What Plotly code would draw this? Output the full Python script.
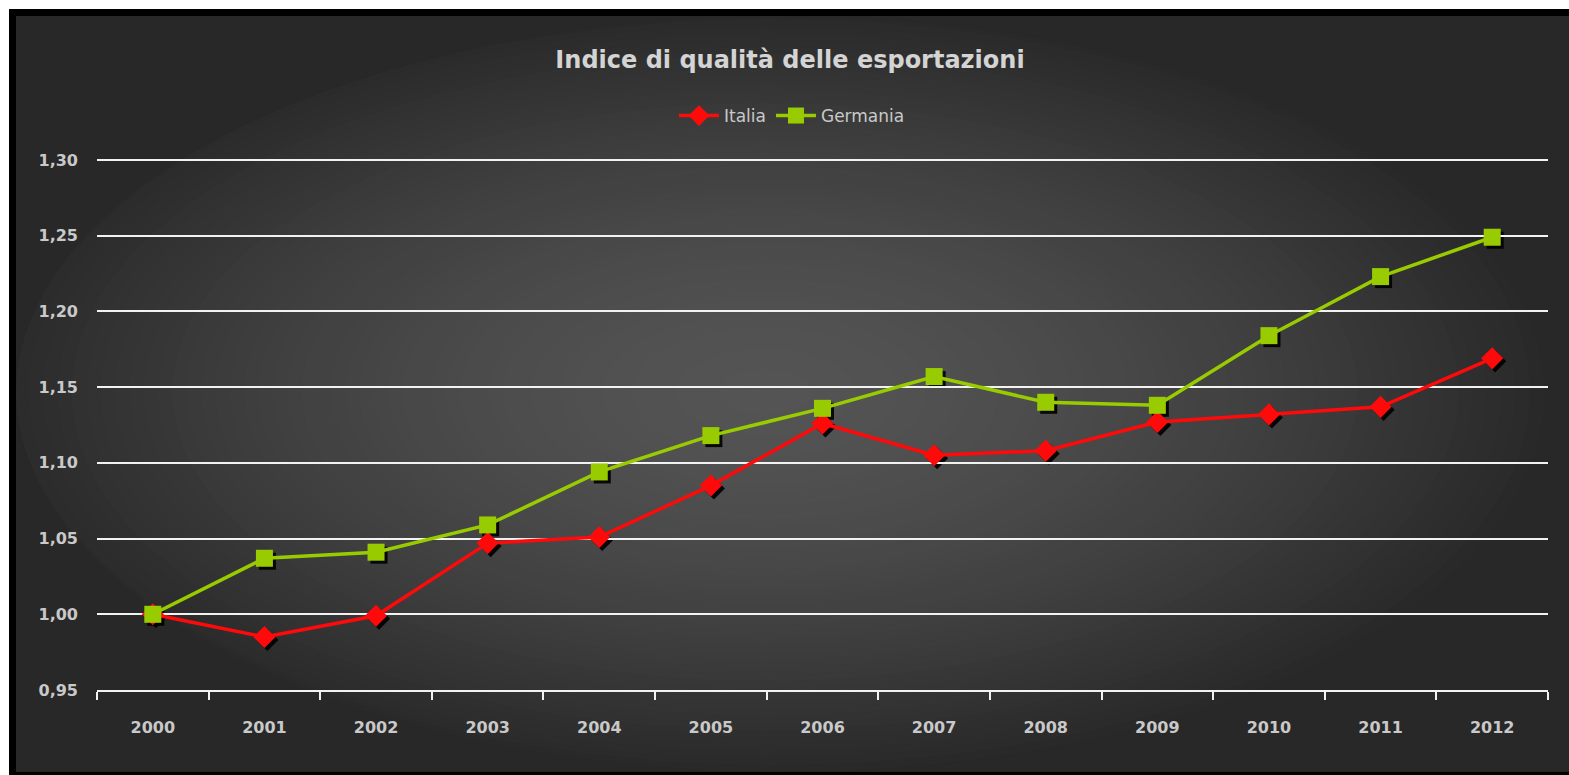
import plotly.graph_objects as go

# Anni e indici (2000 = 1,00)
anni = ["2000", "2001", "2002", "2003", "2004", "2005", "2006",
        "2007", "2008", "2009", "2010", "2011", "2012"]
italia = [1.000, 0.985, 0.999, 1.047, 1.051, 1.085, 1.126,
          1.105, 1.108, 1.127, 1.132, 1.137, 1.169]
germania = [1.000, 1.037, 1.041, 1.059, 1.094, 1.118, 1.136,
            1.157, 1.140, 1.138, 1.184, 1.223, 1.249]
y_ticks = [0.95, 1.00, 1.05, 1.10, 1.15, 1.20, 1.25, 1.30]

TITOLO = "Indice di qualità delle esportazioni"
ROSSO = "#ff0a0a"
VERDE = "#99cc00"
TESTO = "#c9c9c9"
FONT = "DejaVu Sans"

W, H = 1569, 775
ML, MR, MT, MB = 97, 18, 152, 82
PW, PH = W - ML - MR, H - MT - MB
SH = 3  # spostamento ombra in pixel
Y0_PX, Y1_PX = 690, 160  # posizione verticale di 0,95 e 1,30
Y_RANGE = [0.95, 0.95 + 0.35 * (Y0_PX - MT) / (Y0_PX - Y1_PX)]


def px(x):
    return (x - ML) / PW


def py(y):
    return (H - MB - y) / PH


fig = go.Figure()

# ombre dei marcatori: sottografico invisibile spostato di qualche pixel
fig.add_trace(go.Scatter(x=anni, y=italia, mode="markers", xaxis="x", yaxis="y",
                         marker=dict(symbol="diamond", size=17, color="rgba(0,0,0,0.9)"),
                         showlegend=False, hoverinfo="skip"))
fig.add_trace(go.Scatter(x=anni, y=germania, mode="markers", xaxis="x", yaxis="y",
                         marker=dict(symbol="square", size=17, color="rgba(0,0,0,0.9)"),
                         showlegend=False, hoverinfo="skip"))

# serie principali sugli assi visibili
fig.add_trace(go.Scatter(x=anni, y=italia, name="Italia", mode="lines+markers",
                         xaxis="x2", yaxis="y2",
                         line=dict(color=ROSSO, width=3.5),
                         marker=dict(symbol="diamond", size=17, color=ROSSO)))
fig.add_trace(go.Scatter(x=anni, y=germania, name="Germania", mode="lines+markers",
                         xaxis="x2", yaxis="y2",
                         line=dict(color=VERDE, width=3.5),
                         marker=dict(symbol="square", size=17, color=VERDE)))

# sfondo: cornice nera e gradiente radiale scuro
shapes = [
    dict(type="rect", xref="paper", yref="paper", layer="below",
         x0=px(9), x1=px(W), y0=py(9), y1=py(H), fillcolor="#000000", line_width=0),
    dict(type="rect", xref="paper", yref="paper", layer="below",
         x0=px(16), x1=px(W), y0=py(16), y1=py(772), fillcolor="#282828", line_width=0),
]
cx, cy = 765, 392
rx_max, ry_max = 790, 385
n = 56
c_out, c_in = 40, 84
for i in range(n):
    t = i / (n - 1)
    s = 1 - t
    rx, ry = rx_max * s + 4, ry_max * s + 2
    g = c_out + (c_in - c_out) * (1 - s ** 1.6)
    v = int(round(g))
    shapes.append(dict(type="circle", xref="paper", yref="paper", layer="below",
                       x0=px(max(cx - rx, 16)), x1=px(min(cx + rx, W)),
                       y0=py(min(cy + ry, 772)), y1=py(max(cy - ry, 16)),
                       fillcolor=f"rgb({v},{v},{v})", line_width=0))

x_main = [0, (1548 - ML) / PW]
y_main = [SH / PH, 1]
x_shadow = [SH / PW, (1548 - ML + SH) / PW]
y_shadow = [0, 1 - SH / PH]

fig.update_layout(
    width=W, height=H,
    margin=dict(l=ML, r=MR, t=MT, b=MB, pad=0),
    paper_bgcolor="#ffffff",
    plot_bgcolor="rgba(0,0,0,0)",
    separators=",.",
    shapes=shapes,
    title=dict(text=TITOLO, x=790 / W, xanchor="center", xref="container",
               y=1 - 60 / H, yanchor="middle", yref="container",
               font=dict(family=FONT, size=24, color="#d4d4d4", weight="bold")),
    legend=dict(orientation="h", x=px(792), xanchor="center", y=py(116), yanchor="middle",
                font=dict(family=FONT, size=17, color=TESTO),
                bgcolor="rgba(0,0,0,0)", itemwidth=40),
    xaxis=dict(domain=x_shadow, type="category", range=[-0.5, 12.5],
               visible=False, anchor="y"),
    yaxis=dict(domain=y_shadow, range=Y_RANGE, visible=False, anchor="x"),
    xaxis2=dict(domain=x_main, type="category", range=[-0.5, 12.5], anchor="y2",
                showgrid=False, showline=True, linecolor="#f2f2f2", linewidth=2,
                ticks="outside", tickson="boundaries", ticklen=8, tickwidth=2,
                tickcolor="#f2f2f2", ticklabelstandoff=22,
                tickfont=dict(family=FONT, size=16, color=TESTO, weight="bold")),
    yaxis2=dict(domain=y_main, range=Y_RANGE, tickvals=y_ticks, anchor="x2",
                tickformat=".2f", showgrid=True, gridcolor="#f2f2f2", gridwidth=2,
                zeroline=False, showline=False, ticks="", ticklabelstandoff=18,
                tickfont=dict(family=FONT, size=16, color=TESTO, weight="bold")),
    showlegend=True,
)

fig.write_html("out.html")
